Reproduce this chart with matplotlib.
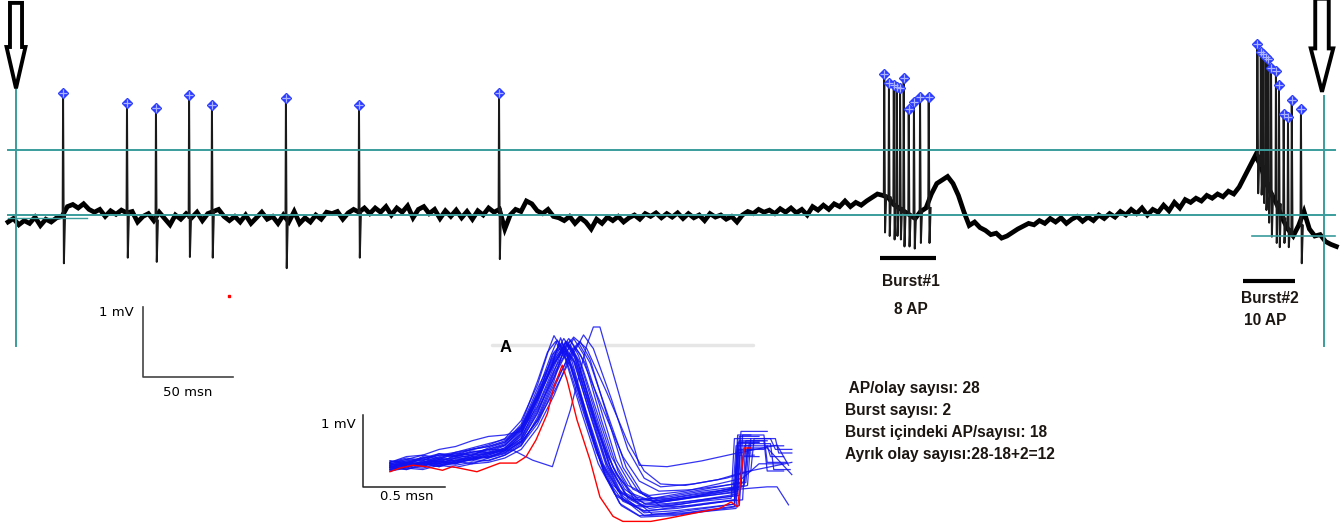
import numpy as np
import matplotlib
matplotlib.use("Agg")
import matplotlib.pyplot as plt

# ---- main trace (ms, mV) ----
dt = 3.0  # baseline sampled every 3 ms
base = [-0.10, -0.05, -0.14, -0.08, -0.12, -0.03, -0.15, -0.06, -0.10, -0.04,
        -0.02, 0.12, 0.15, 0.10, 0.16, 0.08, 0.04, 0.08, -0.02, 0.06,
        0.01, 0.07, 0.03, 0.05, -0.10, -0.02, 0.02, -0.08, 0.04, -0.05,
        -0.14, 0.00, -0.06, 0.02, -0.04, 0.04, -0.08, 0.02, 0.05, 0.08,
        -0.02, -0.08, -0.02, -0.10, 0.00, -0.12, -0.04, 0.04, -0.06, -0.02,
        -0.12, 0.00, -0.10, 0.05, -0.12, -0.04, -0.10, 0.00, -0.06, 0.04,
        0.02, 0.05, -0.06, 0.03, 0.08, 0.04, 0.10, 0.02, 0.10, 0.04,
        0.12, 0.00, 0.10, 0.04, 0.13, -0.04, 0.08, 0.12, 0.02, 0.08,
        -0.05, 0.06, -0.02, 0.07, -0.04, 0.05, -0.06, 0.06, 0.00, 0.10,
        0.04, 0.08, -0.20, 0.00, 0.08, 0.05, 0.20, 0.16, 0.06, 0.02,
        0.08, -0.02, -0.04, -0.08, -0.02, -0.12, -0.04, -0.10, -0.20, -0.06,
        -0.12, -0.03, -0.08, -0.02, -0.10, -0.04, 0.00, -0.06, 0.02, -0.02,
        0.03, -0.04, 0.02, -0.03, 0.03, -0.05, 0.02, -0.04, 0.00, -0.08,
        0.02, -0.03, 0.00, -0.06, -0.02, -0.10, 0.00, 0.05, 0.02, 0.08,
        0.04, 0.07, 0.02, 0.09, 0.04, 0.10, 0.03, 0.08, 0.00, 0.12,
        0.07, 0.14, 0.08, 0.16, 0.12, 0.20, 0.12, 0.18, 0.14, 0.20,
        0.25, 0.30, 0.28, 0.25, 0.15, 0.10, 0.05, 0.00, -0.05, 0.05,
        0.10, 0.30, 0.45, 0.50, 0.55, 0.45, 0.28, 0.05, -0.15, -0.10,
        -0.18, -0.22, -0.28, -0.26, -0.33, -0.30, -0.25, -0.20, -0.16, -0.12,
        -0.14, -0.08, -0.12, -0.05, -0.10, -0.04, -0.12, -0.06, -0.02, -0.09,
        -0.03, -0.08, 0.00, -0.05, 0.02, -0.03, 0.05, 0.00, 0.08, 0.02,
        0.10, 0.00, 0.08, 0.04, 0.14, 0.06, 0.18, 0.10, 0.22, 0.18,
        0.24, 0.20, 0.28, 0.24, 0.30, 0.26, 0.34, 0.30, 0.40, 0.55,
        0.70, 0.85, 0.70, 0.45, 0.30, 0.15, -0.05, -0.20, -0.30, -0.15,
        0.05, -0.20, -0.30, -0.28, -0.38, -0.42, -0.45]

# isolated APs
single_t = [30.6, 66.1, 82.2, 100.6, 113.3, 154.4, 195.0, 272.8]
single_peak = [1.74, 1.60, 1.53, 1.71, 1.57, 1.67, 1.57, 1.74]
single_trough = [-0.69, -0.61, -0.67, -0.60, -0.61, -0.76, -0.61, -0.63]

# burst #1
b1_t = [486.8, 489.4, 492.1, 493.7, 495.6, 497.6, 500.4, 503.3, 506.7, 511.5]
b1_peak = [2.02, 1.88, 1.86, 1.83, 1.81, 1.95, 1.52, 1.61, 1.68, 1.68]
b1_trough = [-0.25, -0.30, -0.35, -0.30, -0.35, -0.45, -0.45, -0.48, -0.40, -0.40]

# burst #2
b2_t = [694.1, 696.0, 697.4, 698.7, 700.2, 701.7, 704.4, 706.1, 708.7, 711.1, 713.2, 718.3]
b2_peak = [2.44, 2.33, 2.30, 2.26, 2.23, 2.10, 2.06, 1.85, 1.44, 1.40, 1.64, 1.52]
b2_trough = [0.31, 0.29, 0.17, 0.07, -0.11, -0.31, -0.40, -0.46, -0.40, -0.46, -0.31, -0.69]

threshold_hi = 0.93
threshold_lo = 0.0

# ---- overlaid AP waveforms (ms, mV) ----
red_wave = [(0, -0.01), (0.06, 0.04), (0.14, 0.08), (0.22, 0.06), (0.32, 0.01), (0.38, 0.06),
            (0.53, -0.01), (0.67, 0.11), (0.77, 0.11), (0.83, 0.20), (0.89, 0.43), (0.96, 0.80),
            (1.00, 1.17), (1.05, 1.47), (1.08, 1.26), (1.14, 0.71), (1.22, 0.15), (1.28, -0.36),
            (1.36, -0.63), (1.42, -0.70), (1.59, -0.70), (1.69, -0.66), (1.89, -0.57), (2.01, -0.52),
            (2.08, -0.43), (2.12, -0.50), (2.16, 0.32), (2.20, 0.32)]

blue_waves = [
    [(0,0.05),(0.1,0.12),(0.2,0.10),(0.3,0.16),(0.4,0.14),(0.5,0.20),(0.6,0.18),(0.7,0.28),(0.8,0.45),(0.9,0.95),(1.0,1.55),(1.04,1.85),(1.1,1.50),(1.2,0.80),(1.3,0.10),(1.4,-0.30),(1.5,-0.42),(1.7,-0.40),(1.9,-0.35),(2.1,-0.30),(2.12,0.40),(2.25,0.40)],
    [(0,0.10),(0.1,0.08),(0.2,0.18),(0.3,0.12),(0.4,0.22),(0.5,0.18),(0.6,0.26),(0.7,0.35),(0.8,0.60),(0.9,1.10),(0.98,1.60),(1.02,1.82),(1.08,1.60),(1.18,0.90),(1.28,0.15),(1.38,-0.35),(1.5,-0.50),(1.7,-0.48),(1.9,-0.42),(2.08,-0.38),(2.1,0.45),(2.2,0.45)],
    [(0,0.02),(0.1,0.06),(0.2,0.04),(0.3,0.10),(0.4,0.08),(0.5,0.12),(0.6,0.15),(0.7,0.22),(0.8,0.35),(0.9,0.75),(1.0,1.30),(1.08,1.80),(1.14,1.55),(1.25,0.70),(1.35,0.0),(1.45,-0.38),(1.55,-0.50),(1.75,-0.45),(1.95,-0.38),(2.12,-0.32),(2.14,0.55),(2.3,0.55)],
    [(0,0.12),(0.1,0.18),(0.2,0.15),(0.3,0.22),(0.4,0.20),(0.5,0.28),(0.6,0.25),(0.7,0.32),(0.8,0.55),(0.9,1.05),(1.0,1.65),(1.05,1.78),(1.12,1.40),(1.22,0.55),(1.32,-0.10),(1.42,-0.42),(1.55,-0.55),(1.75,-0.52),(1.95,-0.45),(2.1,-0.40),(2.12,0.30),(2.22,0.30)],
    [(0,0.06),(0.1,0.04),(0.2,0.12),(0.3,0.08),(0.4,0.16),(0.5,0.14),(0.6,0.22),(0.7,0.30),(0.8,0.42),(0.9,0.80),(1.0,1.35),(1.1,1.75),(1.16,1.50),(1.26,0.75),(1.36,0.05),(1.46,-0.30),(1.6,-0.42),(1.8,-0.35),(2.0,-0.28),(2.14,-0.22),(2.16,0.35),(2.3,0.35),(2.32,0.20),(2.4,0.20)],
    [(0,0.08),(0.1,0.14),(0.2,0.12),(0.3,0.20),(0.4,0.24),(0.5,0.30),(0.6,0.36),(0.7,0.45),(0.8,0.70),(0.9,1.20),(0.97,1.70),(1.0,1.88),(1.06,1.65),(1.16,0.95),(1.26,0.25),(1.36,-0.20),(1.48,-0.40),(1.7,-0.38),(1.9,-0.30),(2.1,-0.25),(2.12,0.50),(2.2,0.50)],
    [(0,0.04),(0.1,0.10),(0.2,0.06),(0.3,0.14),(0.4,0.10),(0.5,0.18),(0.6,0.20),(0.7,0.26),(0.8,0.40),(0.9,0.70),(1.0,1.20),(1.1,1.62),(1.16,1.80),(1.22,1.55),(1.32,0.80),(1.42,0.05),(1.52,-0.30),(1.65,-0.42),(1.85,-0.35),(2.05,-0.28),(2.18,-0.20),(2.2,0.45),(2.35,0.45),(2.37,0.25),(2.45,0.25)],
    [(0,0.10),(0.1,0.06),(0.2,0.14),(0.3,0.10),(0.4,0.18),(0.5,0.22),(0.6,0.30),(0.7,0.38),(0.8,0.62),(0.9,1.15),(1.0,1.60),(1.06,1.84),(1.12,1.62),(1.22,0.85),(1.32,0.12),(1.42,-0.35),(1.55,-0.58),(1.75,-0.55),(1.95,-0.50),(2.1,-0.46),(2.12,0.25),(2.2,0.25)],
    [(0,0.06),(0.1,0.10),(0.2,0.12),(0.3,0.18),(0.4,0.22),(0.5,0.26),(0.6,0.30),(0.75,0.29),(0.87,0.15),(0.99,0.06),(1.1,0.85),(1.2,1.75),(1.24,2.0),(1.28,2.0),(1.52,0.08),(1.69,0.06),(1.9,0.14),(2.1,0.24),(2.36,0.36),(2.43,0.08)],
    [(0,0.02),(0.1,0.08),(0.2,0.12),(0.3,0.10),(0.4,0.18),(0.5,0.16),(0.6,0.24),(0.7,0.28),(0.8,0.40),(0.9,0.70),(1.0,1.10),(1.1,1.55),(1.18,1.89),(1.24,1.70),(1.35,1.00),(1.45,0.30),(1.55,-0.10),(1.65,-0.22),(1.85,-0.18),(2.05,-0.10),(2.2,0.0),(2.22,0.45),(2.32,0.45),(2.35,0.30),(2.45,0.30)],
    [(0,0.12),(0.1,0.20),(0.2,0.22),(0.3,0.30),(0.4,0.34),(0.5,0.42),(0.6,0.48),(0.7,0.50),(0.8,0.55),(0.9,0.90),(1.0,1.45),(1.07,1.80),(1.13,1.60),(1.23,0.90),(1.33,0.20),(1.43,-0.25),(1.55,-0.45),(1.75,-0.40),(1.95,-0.34),(2.12,-0.28),(2.14,0.40),(2.25,0.40)],
    [(0,0.0),(0.1,0.04),(0.2,0.02),(0.3,0.08),(0.4,0.05),(0.5,0.10),(0.6,0.12),(0.7,0.18),(0.8,0.30),(0.9,0.60),(1.0,1.05),(1.08,1.50),(1.13,1.72),(1.19,1.50),(1.29,0.70),(1.39,0.0),(1.49,-0.40),(1.6,-0.60),(1.8,-0.58),(2.0,-0.52),(2.13,-0.48),(2.15,0.20),(2.25,0.20)],
    [(0,0.14),(0.1,0.10),(0.2,0.20),(0.3,0.16),(0.4,0.25),(0.5,0.22),(0.6,0.32),(0.7,0.40),(0.8,0.65),(0.9,1.25),(0.96,1.65),(1.01,1.80),(1.07,1.55),(1.17,0.80),(1.27,0.10),(1.37,-0.32),(1.5,-0.48),(1.7,-0.45),(1.9,-0.40),(2.09,-0.35),(2.11,0.35),(2.2,0.35)],
    [(0,0.04),(0.1,0.08),(0.2,0.12),(0.3,0.14),(0.4,0.12),(0.5,0.20),(0.6,0.24),(0.7,0.30),(0.8,0.48),(0.9,0.88),(1.0,1.40),(1.09,1.76),(1.15,1.52),(1.25,0.72),(1.35,0.02),(1.45,-0.36),(1.58,-0.52),(1.78,-0.46),(1.98,-0.38),(2.13,-0.34),(2.15,0.50),(2.28,0.50),(2.3,0.12),(2.42,0.12)],
    [(0,0.08),(0.1,0.02),(0.2,0.10),(0.3,0.06),(0.4,0.14),(0.5,0.10),(0.6,0.18),(0.7,0.24),(0.8,0.38),(0.9,0.72),(1.0,1.25),(1.06,1.70),(1.12,1.52),(1.22,0.80),(1.32,0.10),(1.42,-0.38),(1.55,-0.62),(1.75,-0.60),(1.95,-0.55),(2.1,-0.50),(2.12,0.28),(2.2,0.28)],
    [(0,0.10),(0.1,0.16),(0.2,0.14),(0.3,0.24),(0.4,0.20),(0.5,0.26),(0.6,0.30),(0.7,0.36),(0.8,0.58),(0.9,1.08),(1.0,1.58),(1.03,1.76),(1.09,1.55),(1.19,0.82),(1.29,0.12),(1.39,-0.28),(1.5,-0.40),(1.7,-0.36),(1.9,-0.28),(2.11,-0.22),(2.13,0.42),(2.28,0.42),(2.3,0.0),(2.4,0.0)],
    [(0,0.06),(0.1,0.12),(0.2,0.08),(0.3,0.16),(0.4,0.18),(0.5,0.22),(0.6,0.26),(0.7,0.30),(0.8,0.45),(0.9,0.85),(1.0,1.30),(1.12,1.84),(1.18,1.62),(1.28,0.90),(1.38,0.15),(1.48,-0.25),(1.6,-0.38),(1.8,-0.30),(2.0,-0.22),(2.16,-0.15),(2.18,0.32),(2.3,0.32),(2.45,-0.05)],
    [(0,0.02),(0.1,0.06),(0.2,0.10),(0.3,0.06),(0.4,0.12),(0.5,0.16),(0.6,0.20),(0.7,0.28),(0.8,0.50),(0.9,1.00),(0.99,1.62),(1.04,1.70),(1.1,1.45),(1.2,0.70),(1.3,0.0),(1.4,-0.45),(1.52,-0.62),(1.72,-0.58),(1.92,-0.52),(2.1,-0.46),(2.12,0.38),(2.22,0.38)],
    [(0,0.12),(0.1,0.16),(0.2,0.22),(0.3,0.18),(0.4,0.26),(0.5,0.30),(0.6,0.34),(0.7,0.42),(0.8,0.60),(0.9,1.00),(1.0,1.50),(1.1,1.82),(1.15,1.60),(1.25,0.90),(1.35,0.20),(1.45,-0.20),(1.58,-0.34),(1.8,-0.28),(2.0,-0.18),(2.15,-0.10),(2.25,0.10),(2.4,0.10)],
    [(0,0.05),(0.1,0.09),(0.2,0.07),(0.3,0.13),(0.4,0.11),(0.5,0.17),(0.6,0.19),(0.7,0.25),(0.8,0.42),(0.9,0.82),(1.0,1.38),(1.06,1.74),(1.12,1.55),(1.22,0.78),(1.32,0.06),(1.42,-0.40),(1.55,-0.56),(1.75,-0.50),(1.95,-0.44),(2.11,-0.40),(2.13,0.48),(2.25,0.48)],
    [(0,0.08),(0.1,0.12),(0.2,0.10),(0.3,0.18),(0.4,0.14),(0.5,0.22),(0.6,0.24),(0.7,0.32),(0.8,0.52),(0.9,1.02),(1.0,1.52),(1.07,1.78),(1.13,1.56),(1.23,0.82),(1.33,0.12),(1.43,-0.30),(1.56,-0.46),(1.76,-0.40),(1.96,-0.32),(2.14,-0.25),(2.3,-0.22),(2.36,-0.22),(2.43,-0.47)],
    [(0,0.10),(0.1,0.14),(0.2,0.18),(0.3,0.22),(0.4,0.26),(0.5,0.32),(0.6,0.38),(0.7,0.44),(0.8,0.62),(0.9,1.05),(1.0,1.50),(1.12,1.86),(1.2,1.70),(1.32,1.10),(1.45,0.40),(1.55,0.0),(1.65,-0.18),(1.8,-0.20),(2.0,-0.12),(2.15,-0.02),(2.3,0.05),(2.45,0.12)],
    [(0,0.04),(0.1,0.02),(0.2,0.08),(0.3,0.12),(0.4,0.10),(0.5,0.16),(0.6,0.14),(0.7,0.22),(0.8,0.36),(0.9,0.66),(1.0,1.15),(1.1,1.66),(1.15,1.78),(1.22,1.50),(1.34,0.70),(1.44,0.05),(1.54,-0.32),(1.66,-0.50),(1.86,-0.48),(2.06,-0.42),(2.15,-0.40),(2.17,0.42),(2.3,0.42)],
    [(0,0.08),(0.1,0.12),(0.2,0.16),(0.3,0.14),(0.4,0.20),(0.5,0.24),(0.6,0.28),(0.7,0.36),(0.8,0.56),(0.9,1.00),(1.0,1.48),(1.06,1.72),(1.13,1.50),(1.26,0.60),(1.38,-0.05),(1.5,-0.36),(1.64,-0.44),(1.84,-0.36),(2.04,-0.26),(2.16,-0.20),(2.18,0.30),(2.28,0.30),(2.3,0.35),(2.4,0.35)],
    [(0,0.00),(0.1,0.06),(0.2,0.10),(0.3,0.08),(0.4,0.14),(0.5,0.18),(0.6,0.22),(0.7,0.30),(0.8,0.52),(0.9,0.98),(1.0,1.56),(1.05,1.76),(1.11,1.52),(1.21,0.70),(1.31,-0.05),(1.41,-0.48),(1.53,-0.64),(1.73,-0.62),(1.93,-0.56),(2.11,-0.52),(2.13,0.22),(2.22,0.22)],
    [(0,0.14),(0.1,0.12),(0.2,0.18),(0.3,0.24),(0.4,0.22),(0.5,0.30),(0.6,0.34),(0.7,0.40),(0.8,0.58),(0.9,1.04),(1.0,1.54),(1.09,1.84),(1.16,1.62),(1.3,0.85),(1.42,0.20),(1.52,-0.14),(1.64,-0.28),(1.84,-0.26),(2.04,-0.20),(2.17,-0.16),(2.19,0.38),(2.32,0.38),(2.34,0.02),(2.44,0.02)],
]

stats_lines = [" AP/olay sayısı: 28", "Burst sayısı: 2",
               "Burst içindeki AP/sayısı: 18", "Ayrık olay sayısı:28-18+2=12"]

TEAL = "#3a9c9c"
MARK = "#2b3bff"

fig = plt.figure(figsize=(13.42, 5.27), dpi=100)

# main axes: whole figure, ms / mV
ax = fig.add_axes([0, 0, 1, 1])
ax.set_xlim(-8 / 1.8, 1334 / 1.8)
ax.set_ylim(-312 / 70, 215 / 70)
ax.axis("off")

tb = np.arange(len(base)) * dt
ax.plot(tb, base, color="black", lw=3.4, solid_joinstyle="miter", zorder=3)

all_t = single_t + b1_t + b2_t
all_p = single_peak + b1_peak + b2_peak
all_tr = single_trough + b1_trough + b2_trough
for t, p, tr in zip(all_t, all_p, all_tr):
    k = min(int(round(t / dt)), len(base) - 1)
    b = base[k]
    ax.plot([t - 0.25, t, t + 0.45, t + 1.1], [b, p, tr, b],
            color="#1a1a1a", lw=1.4, zorder=3)
ax.plot(all_t, all_p, ls="none", marker="D", ms=5, color=MARK, zorder=5)
ax.plot(all_t, all_p, ls="none", marker="+", ms=6, mew=0.9, color="#a9b2ff", zorder=6)

# threshold / cursor lines
t_end = 1327 / 1.8
ax.plot([0, t_end], [threshold_hi, threshold_hi], color=TEAL, lw=1.4, zorder=4)
ax.plot([0, t_end], [threshold_lo, threshold_lo], color=TEAL, lw=1.4, zorder=4)
ax.plot([0, 44], [-0.04, -0.04], color=TEAL, lw=1.0, zorder=4)
ax.plot([1244 / 1.8, t_end], [-0.30, -0.30], color=TEAL, lw=1.2, zorder=4)
ax.plot([8 / 1.8, 8 / 1.8], [3.0, -1.87], color=TEAL, lw=1.4, zorder=4)
ax.plot([1316 / 1.8, 1316 / 1.8], [1.7, -1.87], color=TEAL, lw=1.4, zorder=4)

# hollow cursor arrows
ax.arrow(8 / 1.8, 3.03, 0, -1.22, width=6.7, head_width=10.5, head_length=0.59,
         length_includes_head=True, fc="white", ec="black", lw=2.8, zorder=7)
ax.arrow(1314 / 1.8, 3.09, 0, -1.33, width=7.5, head_width=12.5, head_length=0.62,
         length_includes_head=True, fc="white", ec="black", lw=2.8, zorder=7)

# burst bars and labels
ax.plot([872 / 1.8, 928 / 1.8], [-0.614, -0.614], color="black", lw=3, solid_capstyle="butt")
ax.plot([1235 / 1.8, 1287 / 1.8], [-0.943, -0.943], color="black", lw=3, solid_capstyle="butt")
lab = dict(ha="center", va="center", fontsize=11.2, fontweight="bold",
           family="Liberation Sans", color="#1c1612")
ax.text(903 / 1.8, -0.957, "Burst#1", **lab)
ax.text(903 / 1.8, -1.357, "8 AP", **lab)
ax.text(1262 / 1.8, -1.20, "Burst#2", **lab)
ax.text(1257 / 1.8, -1.514, "10 AP", **lab)

# scale bar of the trace
ax.plot([75, 75, 125], [-1.314, -2.314, -2.314], color="#444444", lw=1.2)
ax.text(70, -1.40, "1 mV", ha="right", va="center", fontsize=9.5)
ax.text(100, -2.54, "50 msn", ha="center", va="center", fontsize=9.5)
ax.plot([122.8], [-1.157], ls="none", marker="s", ms=1.5, color="red")

# stats text
for i, s in enumerate(stats_lines):
    fig.text(845 / 1342, 1 - (389 + 22 * i) / 527, s, ha="left", va="center",
             fontsize=11.2, fontweight="bold", family="Liberation Sans", color="#1c1612")

# ---- waveform overlay axes ----
ax2 = fig.add_axes([300 / 1342, 0, 520 / 1342, 207 / 527])
ax2.set_xlim(-90 / 164, 430 / 164)
ax2.set_ylim(-56 / 72, 151 / 72)
ax2.axis("off")
ax2.patch.set_alpha(0)

ax2.plot([0.622, 2.213], [1.75, 1.75], color="#e6e6e6", lw=2.5, solid_capstyle="round")
ax2.text(0.707, 1.71, "A", ha="center", va="center", fontsize=12, fontweight="bold",
         family="Liberation Sans")

for w in blue_waves:
    wt, wv = zip(*w)
    ax2.plot(wt, wv, color="#1010f0", lw=0.9, alpha=0.85)
rt, rv = zip(*red_wave)
ax2.plot(rt, rv, color="red", lw=1.0)

ax2.plot([-0.165, -0.165, 0.335], [0.78, -0.218, -0.218], color="#222222", lw=1.1)
ax2.text(-0.21, 0.65, "1 mV", ha="right", va="center", fontsize=9.5)
ax2.text(0.1, -0.36, "0.5 msn", ha="center", va="center", fontsize=9.5)

fig.savefig("out.png", dpi=100)
